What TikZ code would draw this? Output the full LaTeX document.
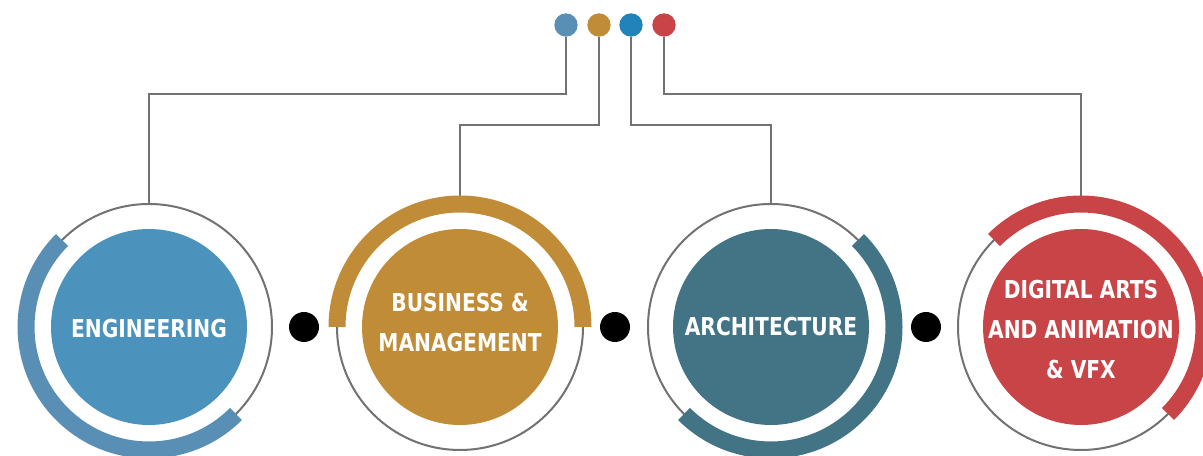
\documentclass[tikz,border=0pt]{standalone}
\usepackage{fontspec}
\newfontfamily\labelfont{DejaVu Sans Condensed}[BoldFont={DejaVu Sans Condensed Bold}, FakeStretch=0.91]
\definecolor{engc}{HTML}{4B92BD}
\definecolor{engarc}{HTML}{5A8FB5}
\definecolor{busc}{HTML}{C18C37}
\definecolor{archc}{HTML}{437486}
\definecolor{digc}{HTML}{C84447}
\definecolor{dotthree}{HTML}{2283BB}
\definecolor{linec}{HTML}{727272}
\begin{document}
\begin{tikzpicture}[x=0.75pt,y=0.75pt,
  ring/.style={circle, draw=linec, line width=1.5pt, minimum size=184.5pt, inner sep=0pt},
  disc/.style={circle, fill=#1, minimum size=147pt, inner sep=0pt},
  label/.style={text=white, align=center, inner sep=0pt,
    font=\labelfont\bfseries\fontsize{18.5}{30}\selectfont},
  topdot/.style={circle, fill=#1, minimum size=17.5pt, inner sep=0pt},
  sepdot/.style={circle, fill=black, minimum size=22.5pt, inner sep=0pt},
  conn/.style={draw=linec, line width=2pt},
  band/.style={line width=12.75pt, draw=#1}]
\useasboundingbox (0,0) rectangle (1203,456);
\clip (0,0) rectangle (1203,456);
% top dots
\node[topdot=engarc] (d1) at (566,431) {};
\node[topdot=busc] (d2) at (599,431) {};
\node[topdot=dotthree] (d3) at (631,431) {};
\node[topdot=digc] (d4) at (664,431) {};
% rings
\node[ring] (r1) at (149,129) {};
\node[ring] (r2) at (460,129) {};
\node[ring] (r3) at (771,129) {};
\node[ring] (r4) at (1081,129) {};
% connectors
\draw[conn] (d1) -- (d1 |- 0,362) -| (r1.north);
\draw[conn] (d2) -- (d2 |- 0,331) -| (r2.north);
\draw[conn] (d3) -- (d3 |- 0,331) -| (r3.north);
\draw[conn] (d4) -- (d4 |- 0,362) -| (r4.north);
% bands
\draw[band=engarc] ([shift={(135:123)}]r1.center) arc[start angle=135, end angle=315, radius=123];
\draw[band=busc] ([shift={(0:123)}]r2.center) arc[start angle=0, end angle=180, radius=123];
\draw[band=archc] ([shift={(-135:123)}]r3.center) arc[start angle=-135, end angle=45, radius=123];
\draw[band=digc] ([shift={(-45:123)}]r4.center) arc[start angle=-45, end angle=135, radius=123];
% discs
\node[disc=engc] (c1) at (r1.center) {};
\node[disc=busc] (c2) at (r2.center) {};
\node[disc=archc] (c3) at (r3.center) {};
\node[disc=digc] (c4) at (r4.center) {};
% labels
\node[label] (t1) at ([yshift=-1pt]c1.center) {ENGINEERING};
\node[label] (t2) at ([yshift=3pt]c2.center) {BUSINESS \&\\MANAGEMENT};
\node[label] (t3) at ([yshift=0pt]c3.center) {ARCHITECTURE};
\node[label] (t4) at ([yshift=-2pt]c4.center) {DIGITAL ARTS\\AND ANIMATION\\\& VFX};
% separator dots
\node[sepdot] (s1) at (304,129) {};
\node[sepdot] (s2) at (615,129) {};
\node[sepdot] (s3) at (926,129) {};
\end{tikzpicture}
\end{document}
